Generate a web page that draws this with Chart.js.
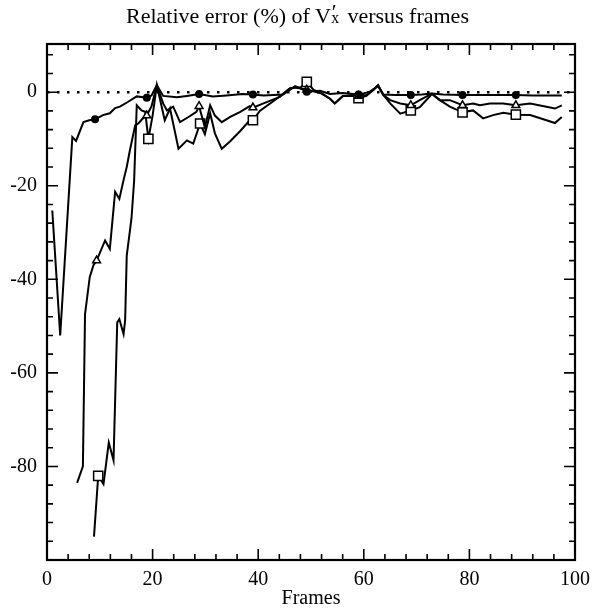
<!DOCTYPE html>
<html>
<head>
<meta charset="utf-8">
<script src="https://cdn.jsdelivr.net/npm/chart.js@4.4.1/dist/chart.umd.min.js"></script>
<style>
  body { margin: 0; background: #fff; }
  #wrap { position: relative; width: 595px; height: 609px; }
  #title {
    position: absolute; top: 1px; left: 0; width: 595px; text-align: center;
    font-family: 'Liberation Serif', serif; font-size: 22px; line-height: 26px; color: #000;
  }
  .sx { display: inline-block; position: relative; width: 0.5em; height: 1em; }
  .sx .pr { position: absolute; left: 0.04em; top: -0.02em; font-size: 1em; line-height: 1; }
  .sx .sb { position: absolute; left: 0.02em; top: 0.55em; font-size: 0.72em; line-height: 1; }
</style>
</head>
<body>
<div id="wrap">
  <div id="title">Relative error (%) of V<span class="sx"><span class="pr">′</span><span class="sb">x</span></span> versus frames</div>
  <canvas id="chart" width="595" height="609"></canvas>
</div>
<script>
// series with filled dots
const frameA = [1, 2.5, 4.8, 5.5, 6.9, 8, 9.1, 10.6, 11.9, 12.9, 13.8, 15.3, 17, 18.9, 19.8, 20.8, 22, 24.6, 26.5, 28.8, 31.4, 34, 37, 39, 41, 44.7, 46, 47, 48, 49.2, 51.7, 53.6, 56, 59, 61, 62.7, 63.7, 66, 68.9, 71, 72.9, 75, 78.7, 82, 85, 88.8, 92, 95, 97.5];
const errA = [-25.3, -52, -9.6, -10.4, -6.4, -6, -5.8, -4.9, -4.5, -3.4, -3.1, -2.1, -0.9, -1.2, -0.7, 1.5, -0.8, -1.1, -0.8, -0.4, -0.9, -0.7, -0.4, -0.5, -0.7, -0.5, 0.5, 1.3, 0.8, 0.1, 0.3, -0.4, -0.2, -0.5, 0, 1.3, -0.5, -0.6, -0.6, -0.5, -0.3, -0.5, -0.6, -0.6, -0.6, -0.6, -0.7, -0.7, -0.7];
const markA = [9.1, 18.9, 28.8, 39, 49.2, 59, 68.9, 78.7, 88.8];

// series with triangles
const frameB = [5.7, 6.8, 7.2, 8.1, 8.8, 9.4, 11, 11.9, 12.9, 13.7, 14.5, 15.1, 15.7, 16.7, 17.3, 18, 18.9, 19.8, 20.8, 22, 22.7, 23.9, 25.2, 26.8, 28.3, 28.8, 29.9, 30.9, 31.8, 33.1, 34.7, 36.6, 38.4, 39, 41, 44.1, 46, 47, 48, 49.2, 50.5, 52, 53.6, 54.5, 56.1, 58, 59, 60.5, 61.8, 62.7, 63.7, 65, 66.9, 68.9, 70.6, 72.9, 74.4, 76.3, 78.7, 80.7, 82, 83.9, 86.4, 88.8, 91.5, 94.6, 96.2, 97.5];
const errB = [-83.5, -80, -47.5, -39.5, -37, -36, -31.7, -33.5, -21.3, -22.8, -18.8, -16, -12.4, -7.1, -6.7, -5.8, -5, -3, 1.5, -2.4, -3.9, -3.1, -6.4, -5.3, -4.2, -3, -7.5, -2.8, -5, -6.4, -5.3, -4.2, -3, -3.3, -2.4, -1, 0.8, 1, 0.8, 0.5, 0.2, -0.3, -1.4, -2.4, -0.8, -0.6, -0.8, -0.6, 0.4, 1.5, -0.6, -1.7, -2.4, -2.8, -1.7, -0.3, -1.7, -1.7, -2.8, -2.4, -2.8, -2.4, -2.4, -2.8, -2.4, -3.1, -3.5, -2.8];
const markB = [9.4, 18.9, 28.8, 39, 49.2, 59, 68.9, 78.7, 88.8];

// series with squares
const frameC = [8.9, 9.7, 10.7, 11.7, 12.6, 13.3, 13.7, 14.5, 14.8, 15.1, 16, 16.5, 17, 17.9, 18.6, 19.2, 20, 20.8, 22.3, 23.3, 24.9, 26.5, 27.7, 29, 29.9, 30.9, 31.8, 33.1, 34.7, 36.6, 38.4, 39, 40.3, 43.5, 46, 47, 48, 49.2, 50.5, 52, 53.6, 54.5, 56, 58, 59, 60.5, 62.7, 63.7, 65, 66.9, 68.9, 70.6, 72.9, 74.4, 76.3, 78.7, 80.7, 82.6, 84.5, 86.4, 88.8, 91.5, 94.6, 96.2, 97.5];
const errC = [-95, -82, -83.8, -74.9, -78.7, -49.2, -48.5, -51.7, -48.8, -35, -27, -19, -2.8, -3.9, -4.2, -10, -5, 1.5, -6, -3.5, -12.1, -10.3, -11, -6.7, -9, -4.5, -8.8, -12.1, -10.5, -8.3, -6, -6, -4, -1.4, 0.8, 1, 1, 2.2, 0.5, -0.2, -1.4, -2.4, -0.8, -0.8, -1.3, -0.8, 1.5, -0.6, -2.4, -4.6, -3.9, -3.2, -0.4, -1.7, -3.1, -4.3, -3.9, -5.6, -4.9, -4.4, -4.8, -4.9, -6, -6.6, -5.3];
const markC = [9.7, 19.2, 29, 39, 49.2, 59, 68.9, 78.7, 88.8];

// dotted zero reference
const zeroFrames = [0, 100];
const zeroErr = [0, 0];

const xTickLabels = [0, 20, 40, 60, 80, 100];
const yTickLabels = [0, -20, -40, -60, -80];

const pts = (xs, ys) => xs.map((x, i) => ({ x: x, y: ys[i] }));

const serif = 'Liberation Serif';
Chart.defaults.color = '#000';

// frame box + inward ticks on all four sides
const frameTicks = {
  id: 'frameTicks',
  afterDraw(chart) {
    const { ctx, chartArea: a, scales: { x, y } } = chart;
    ctx.save();
    ctx.strokeStyle = '#000';
    ctx.lineWidth = 2.2;
    ctx.strokeRect(a.left, a.top, a.right - a.left, a.bottom - a.top);
    ctx.lineWidth = 1.6;
    ctx.beginPath();
    for (let v = 0; v <= 100; v += 4) {
      const px = x.getPixelForValue(v);
      const len = v % 20 === 0 ? 11 : 6;
      ctx.moveTo(px, a.bottom); ctx.lineTo(px, a.bottom - len);
      ctx.moveTo(px, a.top); ctx.lineTo(px, a.top + len);
    }
    for (let v = -100; v <= 10; v += 4) {
      const py = y.getPixelForValue(v);
      const len = v % 20 === 0 ? 11 : 6;
      ctx.moveTo(a.left, py); ctx.lineTo(a.left + len, py);
      ctx.moveTo(a.right, py); ctx.lineTo(a.right - len, py);
    }
    ctx.stroke();
    ctx.restore();
  }
};

const lineStyle = {
  showLine: true,
  borderColor: '#000',
  borderWidth: 2,
  tension: 0,
  pointHoverRadius: 0
};

new Chart(document.getElementById('chart'), {
  type: 'scatter',
  data: {
    datasets: [
      Object.assign({}, lineStyle, {
        label: 'A',
        data: pts(frameA, errA),
        pointStyle: 'circle',
        pointRadius: c => markA.includes(c.raw.x) ? 3 : 0,
        pointBackgroundColor: '#000',
        pointBorderColor: '#000'
      }),
      Object.assign({}, lineStyle, {
        label: 'B',
        data: pts(frameB, errB),
        pointStyle: 'triangle',
        pointRadius: c => markB.includes(c.raw.x) ? 4.5 : 0,
        pointBackgroundColor: '#fff',
        pointBorderColor: '#000',
        pointBorderWidth: 1.5
      }),
      Object.assign({}, lineStyle, {
        label: 'C',
        data: pts(frameC, errC),
        pointStyle: 'rect',
        pointRadius: c => markC.includes(c.raw.x) ? 6.5 : 0,
        pointBackgroundColor: '#fff',
        pointBorderColor: '#000',
        pointBorderWidth: 1.5
      }),
      {
        label: 'zero',
        data: pts(zeroFrames, zeroErr),
        showLine: true,
        borderColor: '#000',
        borderWidth: 2.5,
        borderDash: [2.5, 7.5],
        pointRadius: 0
      }
    ]
  },
  options: {
    responsive: false,
    animation: false,
    devicePixelRatio: 1,
    layout: { padding: { top: 44, right: 20, left: 0, bottom: 0 } },
    plugins: {
      legend: { display: false },
      tooltip: { enabled: false }
    },
    scales: {
      x: {
        type: 'linear',
        min: 0,
        max: 100,
        afterFit: s => { s.height = 49; s.paddingRight = 0; },
        grid: { display: false, drawTicks: false, tickLength: 0 },
        border: { display: false },
        ticks: {
          stepSize: 20,
          padding: 8,
          maxRotation: 0,
          autoSkip: false,
          font: { family: serif, size: 20 },
          callback: v => xTickLabels.includes(v) ? v : ''
        },
        title: {
          display: true,
          text: 'Frames',
          font: { family: serif, size: 20 },
          padding: { top: 0, bottom: -2 }
        }
      },
      y: {
        type: 'linear',
        min: -100,
        max: 10.3,
        afterFit: s => { s.width = 47; },
        grid: { display: false, drawTicks: false, tickLength: 0 },
        border: { display: false },
        ticks: {
          stepSize: 20,
          padding: 10,
          includeBounds: false,
          font: { family: serif, size: 20 },
          callback: v => yTickLabels.includes(v) ? v : ''
        }
      }
    }
  },
  plugins: [frameTicks]
});
</script>
</body>
</html>
